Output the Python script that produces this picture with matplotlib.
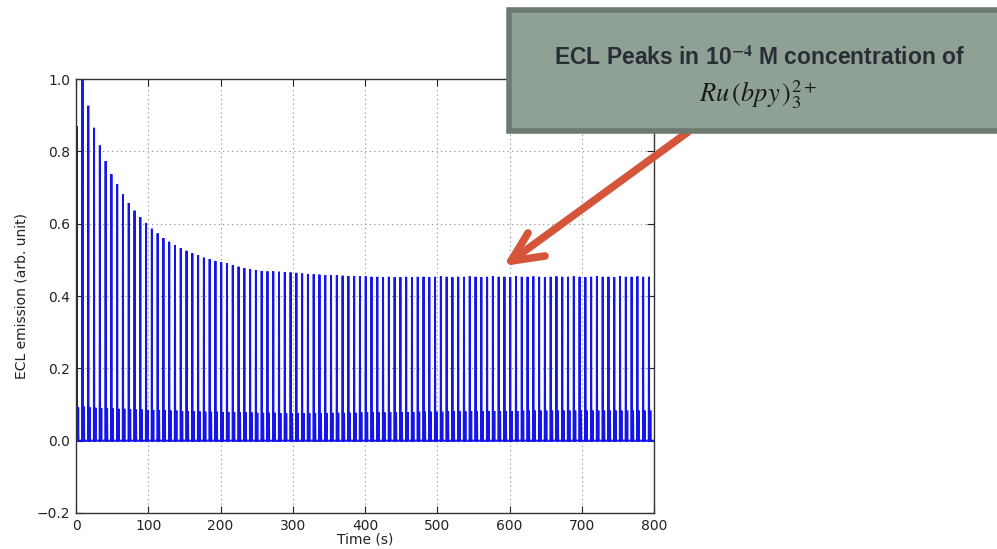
import numpy as np
import matplotlib
matplotlib.use("Agg")
import matplotlib.pyplot as plt
from matplotlib.patches import Rectangle
from matplotlib.lines import Line2D

# Pulse timing (s)
first_pulse = 1.0
pulse_period = 8.0
n_pulses = 100

# Main ECL peak height for each pulse (arb. unit)
peak_heights = [
    0.870, 1.000, 0.926, 0.865, 0.816, 0.773, 0.737, 0.709, 0.681, 0.657,
    0.636, 0.618, 0.601, 0.586, 0.573, 0.560, 0.550, 0.541, 0.532, 0.525,
    0.518, 0.512, 0.506, 0.502, 0.497, 0.493, 0.490, 0.485, 0.481, 0.477,
    0.474, 0.472, 0.469, 0.468, 0.468, 0.467, 0.466, 0.465, 0.464, 0.462,
    0.461, 0.460, 0.459, 0.458, 0.457, 0.457, 0.456, 0.455, 0.455, 0.454,
    0.454, 0.453, 0.453, 0.452, 0.453, 0.452, 0.452, 0.453, 0.452, 0.453,
    0.453, 0.452, 0.453, 0.454, 0.453, 0.452, 0.453, 0.453, 0.454, 0.453,
    0.452, 0.453, 0.454, 0.453, 0.453, 0.452, 0.454, 0.453, 0.453, 0.454,
    0.453, 0.452, 0.453, 0.454, 0.453, 0.453, 0.454, 0.453, 0.452, 0.453,
    0.454, 0.453, 0.453, 0.452, 0.454, 0.453, 0.453, 0.454, 0.453, 0.453,
]

# Secondary (small) emission peak following each main peak
minor_heights = [
    0.092, 0.094, 0.092, 0.091, 0.090, 0.090, 0.089, 0.088, 0.088, 0.087,
    0.086, 0.086, 0.085, 0.085, 0.084, 0.084, 0.083, 0.083, 0.082, 0.082,
    0.081, 0.081, 0.080, 0.080, 0.080, 0.079, 0.079, 0.079, 0.078, 0.078,
    0.078, 0.077, 0.077, 0.077, 0.077, 0.076, 0.076, 0.076, 0.076, 0.076,
    0.076, 0.076, 0.076, 0.076, 0.077, 0.077, 0.077, 0.077, 0.077, 0.078,
    0.078, 0.078, 0.078, 0.078, 0.079, 0.079, 0.079, 0.079, 0.079, 0.080,
    0.080, 0.080, 0.080, 0.080, 0.081, 0.081, 0.081, 0.081, 0.081, 0.081,
    0.082, 0.082, 0.082, 0.082, 0.082, 0.082, 0.082, 0.083, 0.083, 0.083,
    0.083, 0.083, 0.083, 0.083, 0.083, 0.083, 0.083, 0.083, 0.083, 0.083,
    0.083, 0.083, 0.083, 0.083, 0.083, 0.083, 0.083, 0.083, 0.083, 0.083,
]

x_ticks = [0, 100, 200, 300, 400, 500, 600, 700, 800]
y_ticks = [-0.2, 0.0, 0.2, 0.4, 0.6, 0.8, 1.0]

# Build the emission trace: baseline with a sharp spike and a small satellite per pulse
t_trace = [0.0]
y_trace = [0.0]
for k in range(n_pulses):
    t0 = first_pulse + pulse_period * k
    t_trace += [t0 - 0.3, t0, t0 + 0.3, t0 + 1.6, t0 + 2.0, t0 + 2.4]
    y_trace += [0.0, peak_heights[k], 0.0, 0.0, minor_heights[k], 0.0]
t_trace.append(800.0)
y_trace.append(0.0)

plt.rcParams['font.family'] = ['DejaVu Sans']
plt.rcParams['mathtext.fontset'] = 'stix'

W, H = 997, 549
fig = plt.figure(figsize=(W / 100, H / 100), dpi=100, facecolor='white')
ax = fig.add_axes([76 / W, 1 - 513 / H, (654 - 76) / W, (513 - 79) / H])

ax.plot(t_trace, y_trace, color='#1414ee', linewidth=1.4, solid_joinstyle='miter')

ax.set_xlim(0, 800)
ax.set_ylim(-0.2, 1.0)
ax.set_xticks(x_ticks)
ax.set_yticks(y_ticks)
ax.set_xticklabels([str(v) for v in x_ticks])
ax.set_yticklabels([f"{v:.1f}".replace('-', '\u2212') for v in y_ticks])
ax.grid(True, color='#8a8a8a', linestyle=(0, (1, 3)), linewidth=0.8)
ax.tick_params(direction='in', length=5, width=0.8, top=True, right=True,
               labelsize=10, colors='#222222', pad=4)
for s in ax.spines.values():
    s.set_color('#333333')
    s.set_linewidth(1.0)
ax.set_xlabel('Time (s)', fontsize=10, color='#222222', labelpad=0)
ax.set_ylabel('ECL emission (arb. unit)', fontsize=10, color='#222222', labelpad=6)


def fx(px):
    return px / W


def fy(py):
    return 1 - py / H


# Callout box
box = Rectangle((fx(509), fy(131)), fx(1100) - fx(509), fy(10) - fy(131),
                transform=fig.transFigure, facecolor='#8fa195',
                edgecolor='#6c7a70', linewidth=4, clip_on=False, zorder=5)
fig.patches.append(box)
fig.text(fx(760), fy(58), 'ECL Peaks in 10$^{\\mathbf{-4}}$ M concentration of',
         ha='center', va='center', fontsize=16.5, fontweight='bold',
         family=['Liberation Sans', 'DejaVu Sans'], color='#2b2d36', zorder=6)
fig.text(fx(758), fy(95), r'$Ru\,(bpy\,)_3^{2+}$',
         ha='center', va='center', fontsize=19, color='#1a1a1a', zorder=6)

# Arrow from the box toward the steady-state peaks
arrow_color = '#d5553a'
arrow_segments = [
    ((688, 132), (511, 261)),   # shaft
    ((511, 261), (528, 233)),   # upper barb
    ((511, 261), (545, 256)),   # lower barb
]
for (x0, y0), (x1, y1) in arrow_segments:
    fig.lines.append(Line2D([fx(x0), fx(x1)], [fy(y0), fy(y1)],
                            transform=fig.transFigure, color=arrow_color,
                            linewidth=5.5, solid_capstyle='round', zorder=4))

fig.savefig('out.png', dpi=100, facecolor='white')
